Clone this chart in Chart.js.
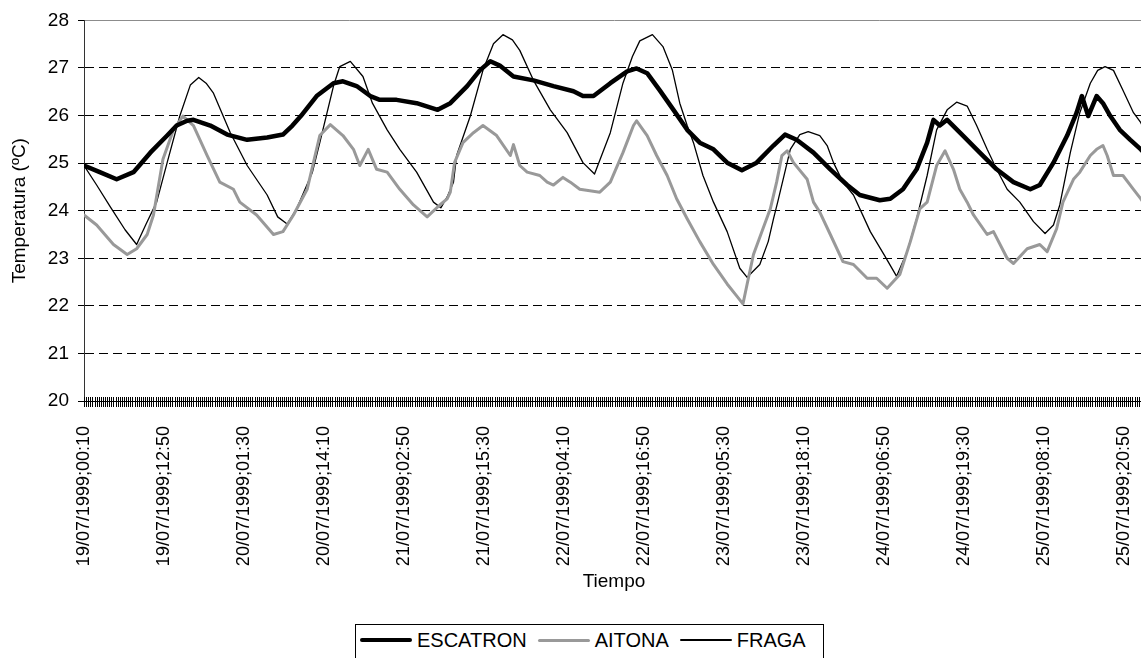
<!DOCTYPE html>
<html lang="es">
<head>
<meta charset="utf-8">
<title>Temperaturas 19-25/07/1999</title>
<script src="https://cdn.jsdelivr.net/npm/chart.js@4.4.1/dist/chart.umd.min.js"></script>
<style>
  html, body { margin: 0; padding: 0; background: #fff; overflow: hidden; }
  #contenedor { position: relative; width: 1179px; height: 670px; }
  #leyenda {
    position: absolute; left: 355px; top: 624px; width: 469px; height: 44px;
    border: 1px solid #000; box-sizing: border-box;
    display: flex; align-items: flex-start; padding: 5px 0 0 4px;
    font: 20px 'Liberation Sans', Arial, sans-serif; color: #000;
  }
  #leyenda .item { display: flex; align-items: center; height: 20px; margin-right: 11px; }
  #leyenda .item i { display: inline-block; width: 52px; border-radius: 3px; margin-right: 5px; }
</style>
</head>
<body>
<div id="contenedor">
  <canvas id="grafico" width="1179" height="600"></canvas>
  <div id="leyenda"></div>
</div>
<script>
// Etiquetas del eje de tiempo (cada 12 h 40 min)
const etiquetasTiempo = [
  '19/07/1999;00:10', '19/07/1999;12:50', '20/07/1999;01:30', '20/07/1999;14:10',
  '21/07/1999;02:50', '21/07/1999;15:30', '22/07/1999;04:10', '22/07/1999;16:50',
  '23/07/1999;05:30', '23/07/1999;18:10', '24/07/1999;06:50', '24/07/1999;19:30',
  '25/07/1999;08:10', '25/07/1999;20:50'
];

// Tiempos en minutos desde el 19/07/1999 00:00, temperaturas en ºC
const escatronMin = [10,160,320,480,640,800,890,990,1050,1210,1370,1560,1750,1900,1990,2070,2220,2380,2470,2600,
  2730,2820,2980,3170,3370,3490,3650,3770,3870,3960,4090,4280,4470,4660,4750,4850,5010,5170,5260,5360,
  5480,5610,5740,5860,5990,6120,6260,6400,6560,6670,6780,6940,7100,7260,7380,7570,7670,7790,7920,8020,
  8080,8140,8210,8360,8520,8680,8840,9000,9090,9220,9350,9440,9490,9550,9630,9690,9760,9850,9950,10050,10080];
const escatronTemp = [24.95,24.81,24.66,24.81,25.22,25.58,25.79,25.89,25.91,25.79,25.60,25.49,25.54,25.60,25.79,25.99,26.41,26.68,26.72,26.62,
  26.41,26.33,26.33,26.26,26.12,26.26,26.62,26.95,27.14,27.05,26.82,26.74,26.62,26.51,26.41,26.41,26.68,26.93,26.99,26.89,
  26.53,26.12,25.70,25.43,25.29,25.01,24.85,25.01,25.37,25.60,25.49,25.22,24.87,24.54,24.33,24.22,24.25,24.45,24.87,25.43,
  25.91,25.79,25.91,25.58,25.22,24.87,24.60,24.45,24.54,25.01,25.58,26.06,26.41,25.99,26.41,26.26,25.99,25.70,25.49,25.29,25.22];

const aitonaMin = [10,130,290,420,510,610,670,760,860,950,1050,1180,1300,1430,1490,1650,1810,1900,2000,2130,
  2250,2350,2470,2570,2630,2710,2790,2890,3010,3140,3270,3390,3460,3490,3530,3610,3710,3800,3930,4060,
  4090,4150,4220,4340,4410,4470,4560,4630,4720,4910,5010,5130,5230,5260,5360,5450,5550,5640,5740,5860,
  5990,6120,6210,6270,6310,6370,6460,6530,6590,6640,6690,6750,6880,6940,7000,7100,7220,7320,7450,7540,
  7640,7760,7860,7950,8020,8110,8190,8270,8330,8400,8460,8590,8650,8780,8840,8970,9090,9160,9250,9310,
  9410,9470,9570,9630,9690,9730,9790,9880,9980,10050,10080];
const aitonaTemp = [23.91,23.70,23.29,23.08,23.20,23.50,23.91,25.08,25.70,25.99,25.79,25.16,24.60,24.45,24.18,23.91,23.50,23.56,23.91,24.45,
  25.58,25.81,25.58,25.29,24.95,25.29,24.87,24.81,24.45,24.12,23.87,24.12,24.25,24.39,25.01,25.43,25.64,25.79,25.58,25.16,
  25.39,24.95,24.81,24.74,24.60,24.54,24.70,24.60,24.45,24.39,24.60,25.22,25.79,25.89,25.58,25.16,24.74,24.25,23.83,23.35,
  22.87,22.46,22.21,22.04,22.46,23.08,23.62,24.04,24.60,25.16,25.26,25.01,24.66,24.18,23.97,23.50,22.93,22.87,22.58,22.58,
  22.37,22.66,23.35,24.04,24.18,24.95,25.26,24.87,24.45,24.18,23.91,23.50,23.56,23.00,22.89,23.20,23.29,23.14,23.62,24.18,
  24.66,24.81,25.16,25.29,25.37,25.16,24.74,24.74,24.45,24.25,24.15];

const fragaMin = [10,130,260,400,510,600,700,800,920,1020,1100,1170,1240,1400,1560,1750,1850,1940,2030,2110,
  2180,2250,2380,2440,2540,2660,2750,2890,3010,3170,3330,3400,3460,3520,3550,3680,3800,3900,3990,4080,
  4150,4280,4440,4600,4750,4860,5010,5130,5220,5290,5410,5510,5600,5670,5740,5800,5890,5990,6120,6240,
  6310,6430,6510,6560,6600,6720,6810,6890,7000,7070,7130,7220,7320,7480,7620,7730,7830,7920,8020,8110,
  8210,8300,8400,8490,8590,8680,8780,8900,9030,9140,9220,9280,9380,9470,9570,9640,9710,9790,9880,9980,10050,10080];
const fragaTemp = [24.95,24.54,24.08,23.60,23.29,23.72,24.18,25.01,25.99,26.64,26.80,26.68,26.47,25.64,24.95,24.33,23.87,23.72,24.04,24.45,
  24.81,25.43,26.62,27.03,27.14,26.82,26.26,25.70,25.29,24.81,24.18,24.06,24.29,24.60,25.16,25.99,26.95,27.51,27.70,27.59,
  27.37,26.74,26.12,25.64,25.01,24.77,25.64,26.68,27.24,27.57,27.70,27.45,26.95,26.26,25.79,25.43,24.74,24.18,23.56,22.79,
  22.60,22.87,23.35,23.83,24.18,25.29,25.60,25.66,25.58,25.37,25.01,24.60,24.33,23.56,23.04,22.62,23.14,23.83,24.74,25.70,
  26.12,26.28,26.20,25.79,25.29,24.87,24.45,24.18,23.77,23.52,23.70,24.12,25.22,26.06,26.68,26.95,27.03,26.95,26.53,26.06,25.85,25.70];

// '19/07/1999;12:50' -> minutos desde el 19/07 00:00
function minutoDeEtiqueta(txt) {
  const [fecha, hora] = txt.split(';');
  const dia = parseInt(fecha.slice(0, 2), 10);
  const [h, m] = hora.split(':').map(Number);
  return (dia - 19) * 1440 + h * 60 + m;
}
const posEtiquetas = etiquetasTiempo.map(minutoDeEtiqueta);

const serie = (tiempos, valores) => tiempos.map((t, i) => ({ x: t, y: valores[i] }));

// Marcas menudas sobre el eje X (una cada registro), cruzando el eje
const marcasEje = {
  id: 'marcasEje',
  afterDraw(chart) {
    const { ctx, scales: { x } } = chart;
    const y0 = x.top;
    ctx.save();
    ctx.strokeStyle = '#000';
    ctx.lineWidth = 1;
    ctx.beginPath();
    for (let t = x.min; t <= x.max; t += 20) {
      const px = Math.round(x.getPixelForValue(t)) + 0.5;
      ctx.moveTo(px, y0 - 4);
      ctx.lineTo(px, y0 + 6);
    }
    ctx.stroke();
    ctx.restore();
  }
};

Chart.defaults.font.family = "'Liberation Sans', Arial, sans-serif";
Chart.defaults.font.size = 19;
Chart.defaults.color = '#000';

const esBorde = c => c.tick && (c.tick.value === 28 || c.tick.value === 20);

const grafico = new Chart(document.getElementById('grafico'), {
  type: 'line',
  data: {
    datasets: [
      { label: 'ESCATRON', data: serie(escatronMin, escatronTemp), borderColor: '#000', borderWidth: 4.5 },
      { label: 'AITONA', data: serie(aitonaMin, aitonaTemp), borderColor: '#999999', borderWidth: 3 },
      { label: 'FRAGA', data: serie(fragaMin, fragaTemp), borderColor: '#000', borderWidth: 1.3 }
    ]
  },
  options: {
    responsive: false,
    animation: false,
    layout: { padding: { top: 16, right: 35, bottom: 7, left: 0 } },
    elements: {
      point: { radius: 0 },
      line: { tension: 0, fill: false, borderJoinStyle: 'round', borderCapStyle: 'round' }
    },
    scales: {
      x: {
        type: 'linear',
        min: 10,
        max: 10080,
        afterBuildTicks: s => { s.ticks = posEtiquetas.map(v => ({ value: v })); },
        afterFit: s => { s.height = 192; },
        ticks: {
          autoSkip: false,
          minRotation: 90,
          maxRotation: 90,
          padding: 17,
          font: { size: 18 },
          callback: (v, i) => etiquetasTiempo[i]
        },
        grid: { display: false },
        border: { display: true, color: '#000', width: 1 },
        title: { display: true, text: 'Tiempo', padding: 0 }
      },
      y: {
        min: 20,
        max: 28,
        afterFit: s => { s.width = 84; },
        ticks: { stepSize: 1, padding: 9 },
        grid: {
          color: c => (c.tick && c.tick.value === 28) ? '#8c8c8c' : '#000',
          borderDash: c => esBorde(c) ? [] : [9, 5],
          tickLength: 6,
          tickColor: '#000',
          tickBorderDash: []
        },
        border: {
          color: '#333',
          width: 1,
          dash: c => esBorde(c) ? [] : [9, 5]
        },
        title: { display: true, text: 'Temperatura (ºC)', padding: { top: 8, bottom: 0 } }
      }
    },
    plugins: {
      legend: { display: false },
      tooltip: { enabled: false }
    }
  },
  plugins: [marcasEje]
});

// Leyenda dibujada a partir de las series
const leyenda = document.getElementById('leyenda');
grafico.data.datasets.forEach(ds => {
  const item = document.createElement('span');
  item.className = 'item';
  const linea = document.createElement('i');
  linea.style.background = ds.borderColor;
  linea.style.height = ds.borderWidth + 'px';
  item.appendChild(linea);
  item.appendChild(document.createTextNode(ds.label));
  leyenda.appendChild(item);
});
</script>
</body>
</html>
